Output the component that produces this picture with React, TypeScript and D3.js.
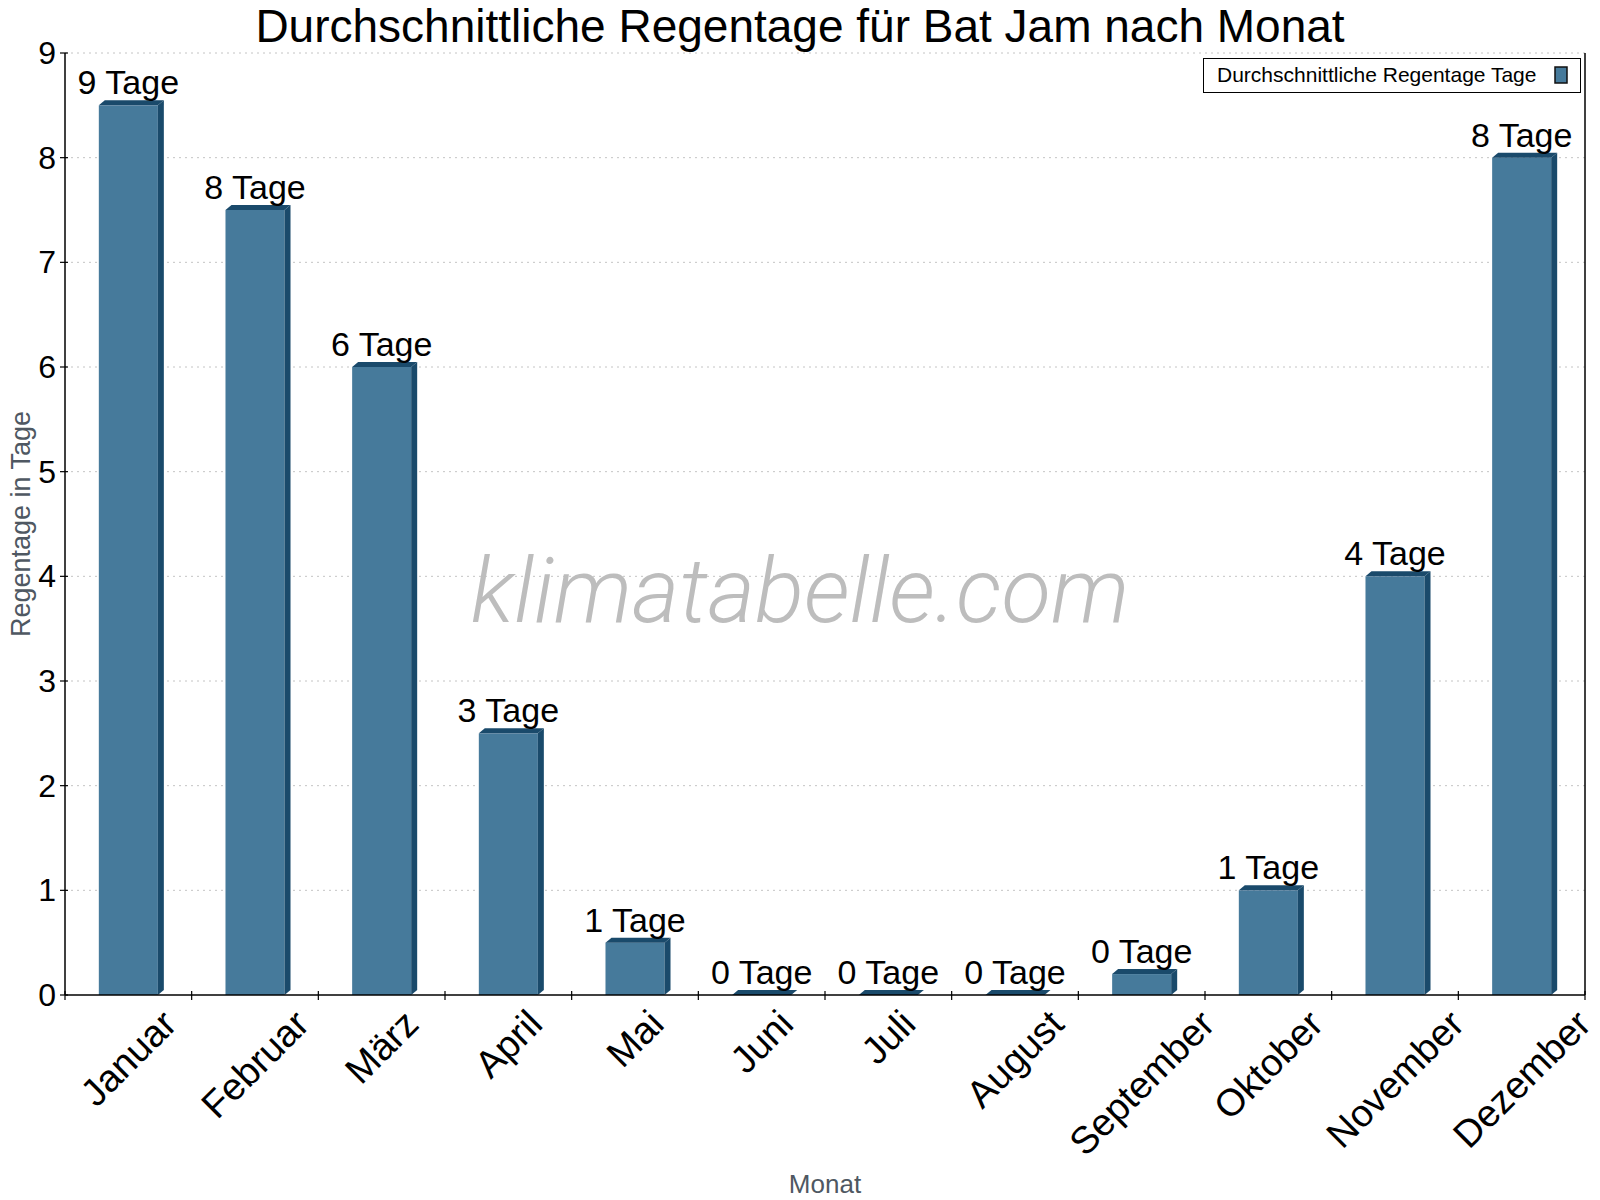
import { useMemo } from 'react';
import * as d3 from 'd3';

const WIDTH = 1600;
const HEIGHT = 1200;
const MARGIN = { top: 53, right: 15, bottom: 205, left: 65 };

const months = [
  'Januar', 'Februar', 'März', 'April', 'Mai', 'Juni',
  'Juli', 'August', 'September', 'Oktober', 'November', 'Dezember',
];
const rainDays = [8.5, 7.5, 6.0, 2.5, 0.5, 0, 0, 0, 0.2, 1.0, 4.0, 8.0];
const dayLabels = [
  '9 Tage', '8 Tage', '6 Tage', '3 Tage', '1 Tage', '0 Tage',
  '0 Tage', '0 Tage', '0 Tage', '1 Tage', '4 Tage', '8 Tage',
];
const yTickValues = [0, 1, 2, 3, 4, 5, 6, 7, 8, 9];

const FONT = '"Liberation Sans", Arial, sans-serif';
const FRONT = '#467a9b';
const DARK = '#1a4a6b';
const DX = 6; // 3d depth
const DY = 5;
const MONTH_FS = 38;

// canvas is only used to measure the rotated month labels
const measureCtx = typeof document !== 'undefined'
  ? document.createElement('canvas').getContext('2d')
  : null;
const textWidth = (txt: string, font: string) => {
  if (!measureCtx) return txt.length * 18;
  measureCtx.font = font;
  return measureCtx.measureText(txt).width;
};

const Chart = () => {
  const left = MARGIN.left;
  const right = WIDTH - MARGIN.right;
  const top = MARGIN.top;
  const bottom = HEIGHT - MARGIN.bottom;

  const xScale = useMemo(
    () => d3.scaleBand().domain(months).range([left, right]).padding(0),
    [left, right]
  );
  const yScale = useMemo(
    () => d3.scaleLinear().domain([0, 9]).range([bottom, top]),
    [bottom, top]
  );

  const step = xScale.step();
  const barW = step * 0.466;

  const bars = months.map((m, i) => {
    const cx = (xScale(m) || 0) + step / 2;
    const x0 = cx - barW / 2;
    const x1 = cx + barW / 2;
    const yt = yScale(rainDays[i]);
    const y0 = yScale(0);
    const side = `M${x1},${yt}L${x1 + DX},${yt - DY}L${x1 + DX},${y0 - DY}L${x1},${y0}Z`;
    const topFace = `M${x0},${yt}L${x0 + DX},${yt - DY}L${x1 + DX},${yt - DY}L${x1},${yt}Z`;
    return (
      <g key={m}>
        {yt < y0 && <rect x={x0} y={yt} width={barW} height={y0 - yt} fill={FRONT} />}
        <path d={side} fill={DARK} />
        <path d={topFace} fill={DARK} />
        <text
          x={cx}
          y={yt - DY - 6}
          textAnchor="middle"
          fontFamily={FONT}
          fontSize={34}
          fill="#000"
        >
          {dayLabels[i]}
        </text>
      </g>
    );
  });

  // rotated labels: centred under the band, upper end on a fixed line
  const monthLabels = months.map((m) => {
    const cx = (xScale(m) || 0) + step / 2;
    const w = textWidth(m, `${MONTH_FS}px ${FONT}`);
    const cy = bottom + 17 + 0.3536 * w + 0.134 * MONTH_FS;
    return (
      <text
        key={m}
        transform={`translate(${cx},${cy}) rotate(-45)`}
        textAnchor="middle"
        dominantBaseline="central"
        fontFamily={FONT}
        fontSize={MONTH_FS}
        fill="#000"
      >
        {m}
      </text>
    );
  });

  const xTicks = d3.range(months.length + 1).map((i) => left + i * step);

  return (
    <svg width={WIDTH} height={HEIGHT} style={{ display: 'block' }}>
      <rect width={WIDTH} height={HEIGHT} fill="#fff" />

      {/* grid */}
      {yTickValues.filter((v) => v > 0).map((v) => (
        <line
          key={v}
          x1={left}
          x2={right}
          y1={yScale(v)}
          y2={yScale(v)}
          stroke="#c4c4c4"
          strokeWidth={1}
          strokeDasharray="2,4"
        />
      ))}

      <text
        x={800}
        y={622}
        textAnchor="middle"
        fontFamily="Roboto, sans-serif"
        fontWeight={300}
        fontStyle="italic"
        fontSize={91}
        fill="#bdbdbd"
      >
        klimatabelle.com
      </text>

      {bars}

      {/* axes */}
      <line x1={left} x2={left} y1={top} y2={bottom} stroke="#000" strokeWidth={1.5} />
      <line x1={right} x2={right} y1={top} y2={bottom} stroke="#000" strokeWidth={1.5} />
      <line x1={left} x2={right} y1={bottom} y2={bottom} stroke="#000" strokeWidth={1.5} />
      {yTickValues.map((v) => (
        <g key={v}>
          <line x1={left - 5} x2={left + 3} y1={yScale(v)} y2={yScale(v)} stroke="#000" strokeWidth={1.2} />
          <text
            x={left - 9}
            y={yScale(v)}
            textAnchor="end"
            dominantBaseline="central"
            fontFamily={FONT}
            fontSize={32}
            fill="#000"
          >
            {v}
          </text>
        </g>
      ))}
      {xTicks.map((x, i) => (
        <line key={i} x1={x} x2={x} y1={bottom - 4} y2={bottom + 5} stroke="#000" strokeWidth={1.2} />
      ))}
      {monthLabels}

      {/* titles */}
      <text x={800} y={42} textAnchor="middle" fontFamily={FONT} fontSize={46} fill="#000">
        Durchschnittliche Regentage für Bat Jam nach Monat
      </text>
      <text
        transform={`translate(30,${(top + bottom) / 2}) rotate(-90)`}
        textAnchor="middle"
        fontFamily={FONT}
        fontSize={27}
        fill="#4f5862"
      >
        Regentage in Tage
      </text>
      <text x={(left + right) / 2} y={1193} textAnchor="middle" fontFamily={FONT} fontSize={26} fill="#4f5862">
        Monat
      </text>

      {/* legend */}
      <rect x={1203.5} y={58.5} width={377} height={34} fill="#fff" stroke="#000" strokeWidth={1} />
      <text x={1217} y={82} fontFamily={FONT} fontSize={21} fill="#000">
        Durchschnittliche Regentage Tage
      </text>
      <rect x={1555} y={67} width={12} height={16} fill={FRONT} stroke="#111" strokeWidth={1.5} />
    </svg>
  );
};

export default function App() {
  return (
    <div style={{ position: 'absolute', left: 0, top: 0 }}>
      <Chart />
    </div>
  );
}
